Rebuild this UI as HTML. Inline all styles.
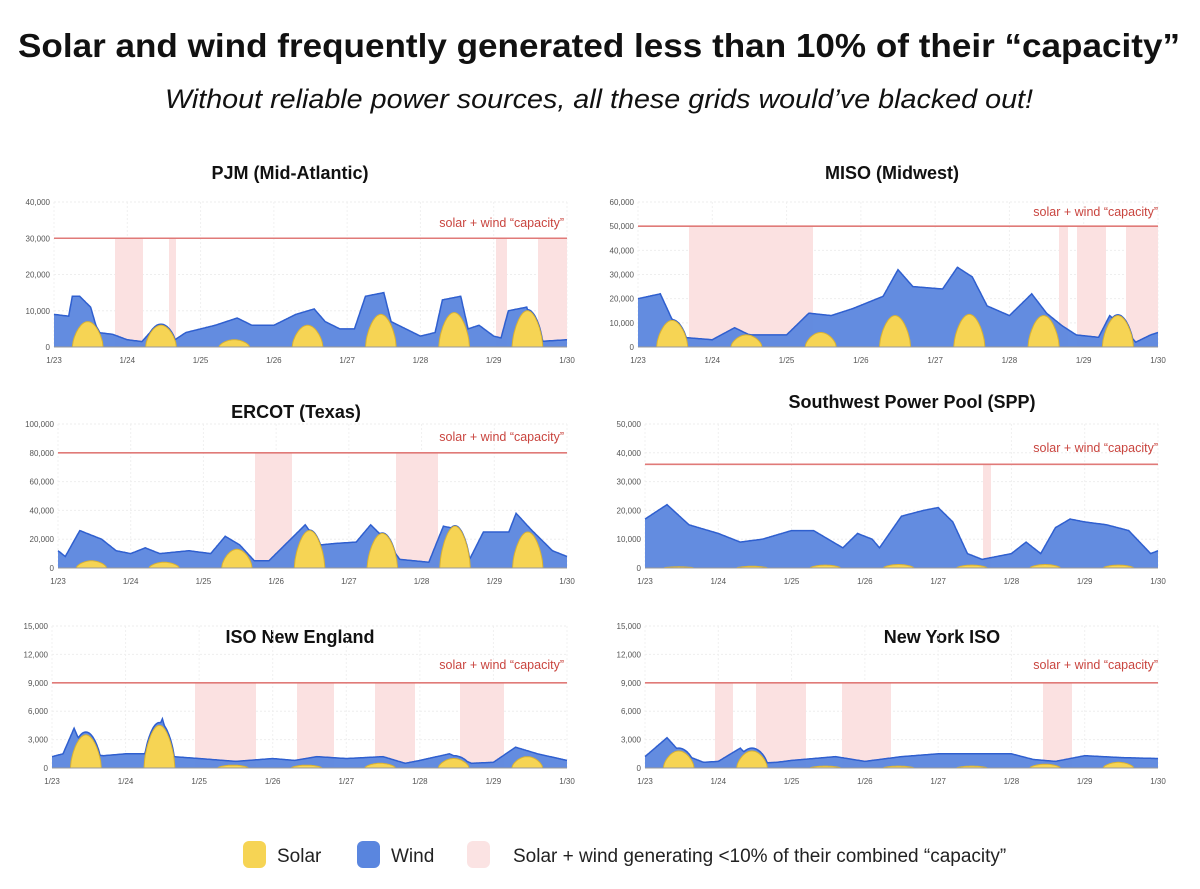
<!DOCTYPE html>
<html><head><meta charset="utf-8"><style>
body{margin:0;background:#fff;width:1200px;height:889px;overflow:hidden;font-family:"Liberation Sans",sans-serif}
svg{display:block}
</style></head><body>
<svg id="s" width="1200" height="889" xmlns="http://www.w3.org/2000/svg">
<text x="18" y="57" textLength="1162" lengthAdjust="spacingAndGlyphs" font-family="Liberation Sans" font-weight="bold" font-size="33" fill="#111">Solar and wind frequently generated less than 10% of their “capacity”</text>
<text x="165" y="108" textLength="868" lengthAdjust="spacingAndGlyphs" font-family="Liberation Sans" font-style="italic" font-size="27" fill="#111">Without reliable power sources, all these grids would’ve blacked out!</text>
<rect x="243" y="841" width="23" height="27" rx="6" fill="#f6d454"/>
<text x="277" y="862" font-size="19" fill="#222">Solar</text>
<rect x="357" y="841" width="23" height="27" rx="6" fill="#5a86df"/>
<text x="391" y="862" font-size="19" fill="#222">Wind</text>
<rect x="467" y="841" width="23" height="27" rx="6" fill="#fbe3e3"/>
<text x="513" y="862" font-size="19" fill="#222">Solar + wind generating &lt;10% of their combined “capacity”</text>
</svg>
<script>
var S=document.getElementById('s'),NS='http://www.w3.org/2000/svg';
function el(t,a,txt){var e=document.createElementNS(NS,t);for(var k in a)e.setAttribute(k,a[k]);if(txt)e.textContent=txt;S.appendChild(e);return e;}
var P=[
{t:'PJM (Mid-Atlantic)',tx:290,ty:179,x0:54,x1:567,y0:347,yt:202,max:40,step:10,cap:30,lx:564,ly:227,bands:[[115,143],[169,176],[496,507],[538,567]],
tot:[[0,9],[.2,8.5],[.25,14],[.35,14],[.5,11],[.6,4],[.8,3.5],[1,2],[1.2,1.5],[1.4,6],[1.5,4.5],[1.65,2],[1.8,4],[2.2,6],[2.5,8],[2.7,6],[3,6],[3.3,9],[3.55,10.5],[3.7,7],[3.9,5],[4.1,5],[4.25,14],[4.5,15],[4.6,7],[4.9,4],[5,3],[5.2,4],[5.3,13],[5.55,14],[5.65,5],[5.8,6],[6,3],[6.1,2.5],[6.2,10],[6.45,11],[6.6,1.5],[7,2]],sol:[7,6,2,6,9,9.5,10]},
{t:'MISO (Midwest)',tx:892,ty:179,x0:638,x1:1158,y0:347,yt:202,max:60,step:10,cap:50,lx:1158,ly:216,bands:[[689,813],[1059,1068],[1077,1106],[1126,1158]],
tot:[[0,20],[.3,22],[.45,12],[.6,4],[1,3],[1.3,8],[1.5,5],[2,5],[2.3,14],[2.6,13],[2.9,16],[3.3,21],[3.5,32],[3.7,25],[4.1,24],[4.3,33],[4.5,29],[4.7,17],[5,13],[5.3,22],[5.5,14],[5.7,9],[5.9,5],[6.2,4],[6.35,13],[6.5,9],[6.7,2],[6.9,5],[7,6]],sol:[11,5,6,13,13.5,13,13]},
{t:'ERCOT (Texas)',tx:296,ty:418,x0:58,x1:567,y0:568,yt:424,max:100,step:20,cap:80,lx:564,ly:441,bands:[[255,292],[396,438]],
tot:[[0,12],[.1,8],[.3,26],[.6,20],[.8,12],[1,10],[1.2,14],[1.4,10],[1.8,12],[2.1,10],[2.3,22],[2.5,16],[2.7,5],[2.9,5],[3.2,20],[3.4,30],[3.6,16],[3.8,17],[4.1,18],[4.3,30],[4.5,20],[4.7,6],[4.9,5],[5.1,4],[5.3,29],[5.5,27],[5.65,5],[5.85,25],[6.2,25],[6.3,38],[6.5,27],[6.8,12],[7,8]],sol:[5,4,13,26,24,29,25]},
{t:'Southwest Power Pool (SPP)',tx:912,ty:408,x0:645,x1:1158,y0:568,yt:424,max:50,step:10,cap:36,lx:1158,ly:452,bands:[[983,991]],
tot:[[0,17],[.3,22],[.6,15],[1,12],[1.3,9],[1.6,10],[2,13],[2.3,13],[2.5,10],[2.7,7],[2.9,12],[3.1,10],[3.2,7],[3.5,18],[3.8,20],[4,21],[4.2,16],[4.4,5],[4.6,3],[4.8,4],[5,5],[5.2,9],[5.4,5],[5.6,14],[5.8,17],[6,16],[6.3,15],[6.6,13],[6.9,5],[7,6]],sol:[.4,.6,1,1.2,1,1.2,1]},
{t:'ISO New England',tx:300,ty:643,x0:52,x1:567,y0:768,yt:626,max:15,step:3,cap:9,lx:564,ly:669,bands:[[195,256],[297,334],[375,415],[460,504]],
tot:[[0,1.2],[.15,1.5],[.3,4.2],[.45,1.5],[.7,1.3],[1,1.5],[1.3,1.5],[1.5,5.2],[1.65,1.2],[2,1],[2.5,.7],[3,1],[3.3,.8],[3.6,1.2],[4,1],[4.5,1.2],[4.8,.5],[5,.8],[5.4,1.5],[5.7,.5],[6,.6],[6.3,2.2],[6.6,1.5],[7,.8]],sol:[3.5,4.5,.3,.3,.5,1,1.2]},
{t:'New York ISO',tx:942,ty:643,x0:645,x1:1158,y0:768,yt:626,max:15,step:3,cap:9,lx:1158,ly:669,bands:[[715,733],[756,806],[842,891],[1043,1072]],
tot:[[0,1.2],[.3,3.2],[.5,1.5],[.8,.6],[1,.7],[1.3,2.1],[1.5,.5],[1.8,.6],[2,.8],[2.3,1],[2.6,1.2],[3,.7],[3.5,1.2],[4,1.5],[4.5,1.5],[5,1.5],[5.3,.9],[5.6,.7],[6,1.3],[6.5,1.1],[7,1]],sol:[1.8,1.8,.2,.2,.2,.4,.6]}
];
function interp(a,t){for(var i=1;i<a.length;i++){if(t<=a[i][0]){var p=a[i-1],q=a[i],f=(t-p[0])/(q[0]-p[0]);return p[1]+f*(q[1]-p[1]);}}return a[a.length-1][1];}
function solar(p,t){var d=Math.floor(t),f=t-d;if(d>6)return 0;var c=(f-0.25)/0.42;if(c<0||c>1)return 0;var v=Math.sin(Math.PI*c);return p.sol[d]*Math.pow(v,0.6);}
P.forEach(function(p){
 var W=(p.x1-p.x0)/7,H=(p.y0-p.yt)/p.max;
 function X(t){return p.x0+t*W;} function Y(v){return p.y0-v*H;}
 el('text',{x:p.tx,y:p.ty,'text-anchor':'middle','font-weight':'bold','font-size':18,fill:'#111'},p.t);
 for(var v=0;v<=p.max+1e-9;v+=p.step){var y=Y(v);
  el('line',{x1:p.x0,x2:p.x1,y1:y,y2:y,stroke:'#eee','stroke-width':1,'stroke-dasharray':'2,2'});
  el('text',{x:p.x0-4,y:y+3,'text-anchor':'end','font-size':8,fill:'#555'},(v*1000).toLocaleString('en-US'));}
 for(var d=0;d<=7;d++){var x=X(d);
  el('line',{x1:x,x2:x,y1:p.yt,y2:p.y0,stroke:'#f0f0f0','stroke-width':1,'stroke-dasharray':'2,2'});
  el('text',{x:x,y:p.y0+16,'text-anchor':'middle','font-size':8,fill:'#555'},'1/'+(23+d));}
 p.bands.forEach(function(b){el('rect',{x:b[0],y:Y(p.cap),width:b[1]-b[0],height:p.y0-Y(p.cap),fill:'#fbe1e1'});});
 var tp='M'+X(0)+','+p.y0,sp='M'+X(0)+','+p.y0,tl='',sl='';
 for(var t=0;t<=7.0001;t+=0.01){var s=solar(p,t),w=interp(p.tot,t);if(w<s+0.3)w=s+0.3;
  tp+=' L'+X(t).toFixed(1)+','+Y(w).toFixed(1);sp+=' L'+X(t).toFixed(1)+','+Y(s).toFixed(1);
  tl+=(tl?' L':'M')+X(t).toFixed(1)+','+Y(w).toFixed(1);sl+=(sl?' L':'M')+X(t).toFixed(1)+','+Y(s).toFixed(1);}
 tp+=' L'+X(7)+','+p.y0+' Z';sp+=' L'+X(7)+','+p.y0+' Z';
 el('path',{d:tp,fill:'#5b86de',opacity:0.95});
 el('path',{d:tl,fill:'none',stroke:'#2f5fcf','stroke-width':1.5});
 el('path',{d:sp,fill:'#f6d454'});
 el('path',{d:sl,fill:'none',stroke:'#d9b233','stroke-width':1});
 el('line',{x1:p.x0,x2:p.x1,y1:p.y0,y2:p.y0,stroke:'#999','stroke-width':1});
 el('line',{x1:p.x0,x2:p.x1,y1:Y(p.cap),y2:Y(p.cap),stroke:'#e07a78','stroke-width':1.6});
 el('text',{x:p.lx,y:p.ly,'text-anchor':'end','font-size':12.5,fill:'#c9453f'},'solar + wind “capacity”');
});
</script>
</body></html>
